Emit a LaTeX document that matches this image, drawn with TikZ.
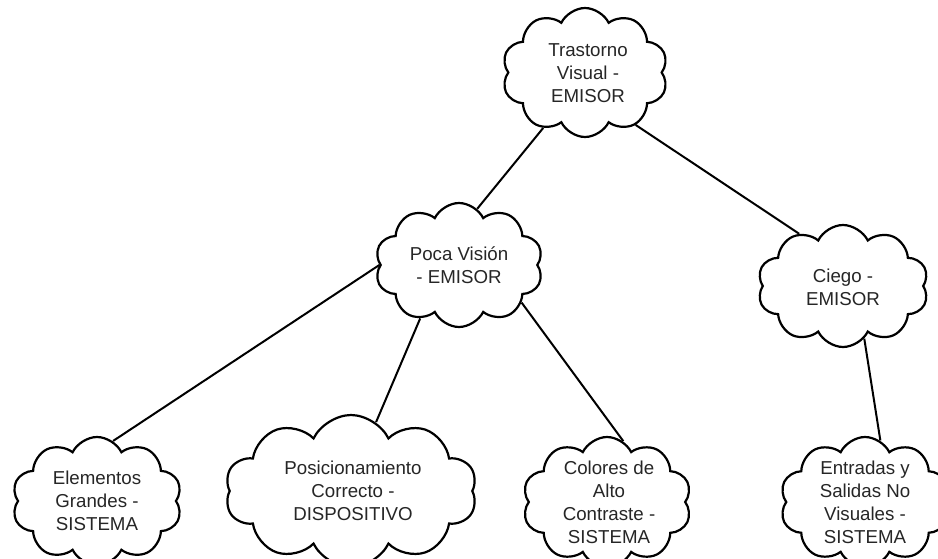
\documentclass[tikz,border=0pt]{standalone}
\usepackage{fontspec}
\setmainfont{Liberation Sans}
\usetikzlibrary{shapes.symbols}
\tikzset{
  cloudbox/.style={cloud, cloud puffs=10, cloud puff arc=128, cloud ignores aspect,
    draw=black, line width=2.2pt, fill=white, inner sep=0pt},
  lbl/.style={align=center, inner sep=0pt, font=\fontsize{18.7}{23}\selectfont, text=black!85},
  conn/.style={draw=black, line width=2pt}
}
\begin{document}
\begin{tikzpicture}[x=1pt,y=-1pt]
\useasboundingbox (0,0) rectangle (938,558);
\clip (0,0) rectangle (938,558);
\fill[white] (0,0) rectangle (938,558);
% clouds
\node[cloudbox, minimum width=166pt, minimum height=129pt] (T) at (585,72.5) {};
\node[cloudbox, minimum width=168pt, minimum height=124pt] (P) at (459,265) {};
\node[cloudbox, minimum width=171pt, minimum height=122pt] (C) at (843,286) {};
\node[cloudbox, minimum width=170pt, minimum height=128pt] (E) at (97,501) {};
\node[cloudbox, minimum width=252pt, minimum height=152pt] (D) at (351,491) {};
\node[cloudbox, minimum width=169pt, minimum height=130pt] (K) at (607,502) {};
\node[cloudbox, minimum width=170pt, minimum height=130pt] (N) at (865,502) {};
% texts
\node[lbl] (tT) at (588,73) {Trastorno\\Visual -\\EMISOR};
\node[lbl] (tP) at (459,265) {Poca Visión\\- EMISOR};
\node[lbl] (tC) at (843,287) {Ciego -\\EMISOR};
\node[lbl] (tE) at (97,501) {Elementos\\Grandes -\\SISTEMA};
\node[lbl] (tD) at (353,491) {Posicionamiento\\Correcto -\\DISPOSITIVO};
\node[lbl] (tK) at (609,502) {Colores de\\Alto\\Contraste -\\SISTEMA};
\node[lbl] (tN) at (865,502) {Entradas y\\Salidas No\\Visuales -\\SISTEMA};
% connectors
\draw[conn] (T.233) -- (P.72);
\draw[conn] (T.314) -- (C.130);
\draw[conn] (P.180) -- (E.75);
\draw[conn] (P.234) -- (D.70);
\draw[conn] (P.329) -- (K.75);
\draw[conn] (C.292) -- (N.76);
\end{tikzpicture}
\end{document}
